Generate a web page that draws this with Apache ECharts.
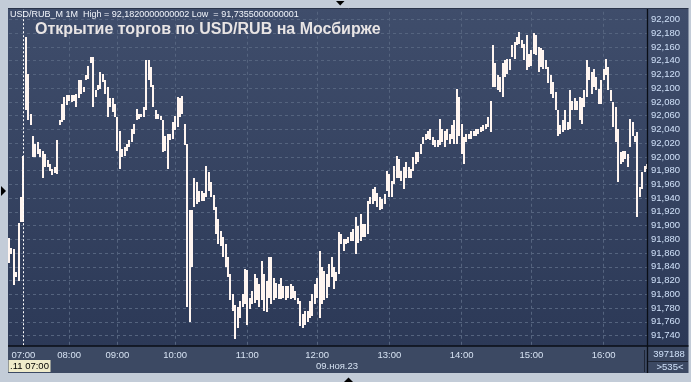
<!DOCTYPE html>
<html><head><meta charset="utf-8">
<script src="https://cdn.jsdelivr.net/npm/echarts@6/dist/echarts.min.js"></script>
<style>html,body{margin:0;padding:0;background:#c3ccd8;}#c{width:691px;height:382px;}</style>
</head><body><div id="c"></div>
<script>
// Minute bars (grouped ~2 min per column): low and high values
const lows = [
91.845,91.858,91.813,91.825,91.820,91.905,91.905,92.068,92.053,92.046,
92.000,92.000,92.004,92.000,91.970,91.985,91.985,91.980,91.973,91.976,
91.975,92.046,92.051,92.053,92.075,92.082,92.080,92.082,92.072,92.085,
92.092,92.094,92.112,92.114,92.136,92.072,92.087,92.097,92.099,92.109,
92.092,92.058,92.072,92.065,92.058,92.009,91.982,92.000,92.002,92.009,
92.014,92.021,92.034,92.053,92.055,92.058,92.058,92.068,92.112,92.102,
92.072,92.055,92.055,92.053,92.007,92.009,91.982,92.024,92.026,92.039,
92.043,92.058,92.063,92.017,91.782,91.759,91.839,91.927,91.931,91.934,
91.936,91.936,91.941,91.951,91.941,91.922,91.888,91.873,91.871,91.854,
91.839,91.825,91.791,91.776,91.7355,91.751,91.766,91.781,91.786,91.756,
91.778,91.786,91.788,91.791,91.781,91.791,91.776,91.774,91.795,91.786,
91.791,91.795,91.793,91.793,91.795,91.791,91.795,91.793,91.795,91.791,
91.786,91.754,91.751,91.756,91.759,91.766,91.768,91.786,91.795,91.766,
91.786,91.791,91.795,91.810,91.825,91.807,91.820,91.829,91.873,91.863,
91.873,91.875,91.878,91.878,91.859,91.875,91.878,91.883,91.883,91.888,
91.931,91.931,91.936,91.927,91.922,91.924,91.931,91.951,91.941,91.941,
91.961,91.970,91.970,91.965,91.953,91.970,91.970,91.970,91.980,91.990,
91.992,92.004,92.019,92.024,92.026,92.024,92.017,92.014,92.014,92.017,
92.021,92.014,92.024,92.019,92.026,92.019,92.019,92.031,92.004,91.990,
92.021,92.026,92.026,92.031,92.031,92.034,92.036,92.038,92.041,92.043,
92.036,92.102,92.102,92.097,92.094,92.087,92.116,92.121,92.126,92.146,
92.143,92.163,92.165,92.158,92.141,92.126,92.131,92.133,92.150,92.148,
92.124,92.131,92.128,92.128,92.107,92.092,92.085,92.068,92.031,92.034,
92.036,92.039,92.039,92.041,92.068,92.068,92.068,92.053,92.048,92.072,
92.087,92.112,92.092,92.102,92.097,92.077,92.077,92.112,92.119,92.097,
92.082,92.043,92.021,91.963,91.990,91.992,91.997,91.985,92.014,92.031,
92.021,91.912,91.941,91.953,91.978,91.982
];
const highs = [
91.882,91.867,91.866,91.833,91.904,91.941,92.002,92.174,92.121,92.063,
92.031,92.019,92.021,92.012,92.009,92.004,91.995,91.990,91.982,91.985,
92.024,92.053,92.077,92.087,92.090,92.090,92.090,92.090,92.092,92.112,
92.112,92.102,92.119,92.133,92.145,92.145,92.097,92.104,92.124,92.121,
92.112,92.102,92.085,92.085,92.077,92.058,92.038,92.012,92.014,92.019,
92.024,92.041,92.048,92.070,92.063,92.063,92.072,92.141,92.141,92.131,
92.104,92.068,92.063,92.060,92.053,92.031,92.034,92.034,92.051,92.060,
92.087,92.085,92.088,92.048,92.019,91.922,91.922,91.970,91.963,91.951,
91.951,91.948,91.987,91.978,91.963,91.944,91.927,91.910,91.892,91.883,
91.873,91.854,91.829,91.800,91.785,91.781,91.790,91.800,91.837,91.835,
91.795,91.805,91.829,91.824,91.815,91.849,91.829,91.819,91.854,91.854,
91.824,91.817,91.815,91.824,91.812,91.812,91.812,91.815,91.812,91.805,
91.795,91.790,91.771,91.776,91.776,91.790,91.800,91.815,91.824,91.863,
91.839,91.834,91.829,91.844,91.854,91.839,91.832,91.890,91.888,91.880,
91.880,91.883,91.890,91.895,91.912,91.900,91.917,91.902,91.902,91.936,
91.941,91.953,91.956,91.948,91.941,91.939,91.946,91.980,91.975,91.965,
91.987,92.002,91.997,91.980,91.985,91.992,91.985,91.982,92.000,92.007,
92.007,92.019,92.029,92.034,92.038,92.041,92.029,92.024,92.024,92.055,
92.041,92.038,92.041,92.034,92.046,92.053,92.099,92.087,92.048,92.029,
92.034,92.034,92.038,92.038,92.041,92.041,92.043,92.046,92.048,92.058,
92.082,92.163,92.136,92.119,92.116,92.136,92.141,92.143,92.143,92.163,
92.167,92.175,92.182,92.170,92.165,92.177,92.150,92.155,92.180,92.177,
92.160,92.158,92.155,92.141,92.131,92.119,92.109,92.094,92.068,92.046,
92.053,92.068,92.051,92.097,92.082,92.085,92.082,92.087,92.085,92.097,
92.141,92.131,92.124,92.128,92.116,92.099,92.112,92.128,92.143,92.131,
92.097,92.080,92.072,92.041,92.007,92.009,92.009,92.004,92.055,92.051,
92.031,92.036,91.956,91.978,91.987,91.990
];
const tickLabels = ['07:00','08:00','09:00','10:00','11:00','12:00','13:00','14:00','15:00','16:00'];
const tickIndex = [6,25,45,69,99,128,158,188,217,247];
const lastPrice = 91.987;
const infoText = 'USD/RUB_M 1M  High = 92,1820000000002 Low  = 91,7355000000001';
const titleText = 'Открытие торгов по USD/RUB на Мосбирже';
const dateText = '09.ноя.23';
const cursorText = '.11 07:00';
const volumeText = '397188';
const barsText = '>535<';

const cats = lows.map((_, i) => String(i));
const rangeData = lows.map((l, i) => [i, l, highs[i]]);
const isTick = i => tickIndex.indexOf(i) >= 0;
const isGrid = i => isTick(i) && i !== tickIndex[0];
const fmt = v => v.toFixed(3).replace('.', ',');

const FRAME = '#c3ccd8';
const BOTTOM = '#3c4963';
const BAR = '#fff5f0';
const GRID = '#55647f';
const panelGrad = {type:'linear', x:0, y:0, x2:0, y2:1, colorStops:[{offset:0,color:'#3f4d6b'},{offset:1,color:'#2c3957'}]};
const FONT = '"Liberation Sans", Arial, sans-serif';

function renderBar(params, api) {
  const i = api.value(0);
  const top = api.coord([i, api.value(2)]);
  const bot = api.coord([i, api.value(1)]);
  const x = Math.round(top[0]) - 1;
  const y = Math.round(top[1]);
  const h = Math.max(1, Math.round(bot[1]) - y);
  return {type:'rect', shape:{x:x, y:y, width:2, height:h}, style:{fill:BAR}};
}

const chart = echarts.init(document.getElementById('c'), null, {renderer:'canvas'});
chart.setOption({
  backgroundColor: FRAME,
  animation: false,
  grid: {left: 9, right: 44, top: 5.76, bottom: 32.76},
  xAxis: {
    type: 'category', data: cats, boundaryGap: false,
    axisLine: {show:false}, axisTick: {show:false},
    axisLabel: {interval: i => isTick(i), formatter: (v, i) => tickLabels[tickIndex.indexOf(i)],
      color:'#d6e2f2', fontSize:9.5, fontFamily: FONT, margin:1},
    splitLine: {show:true, interval: i => isGrid(i), lineStyle:{color:GRID, type:[3,3], width:1}}
  },
  yAxis: {
    type: 'value', position: 'right', min: 91.72, max: 92.22, interval: 0.02,
    axisLine: {show:false}, axisTick: {show:false},
    axisLabel: {showMinLabel:false, showMaxLabel:false, formatter: fmt, color:'#cfe0f8', fontSize:9.5, fontFamily: FONT, margin:4},
    splitLine: {show:true, showMinLine:false, showMaxLine:false, lineStyle:{color:GRID, type:[3,3], width:1}}
  },
  series: [{
    type: 'custom', data: rangeData, renderItem: renderBar,
    encode: {x: 0, y: [1, 2]},
    markLine: {
      silent: true, symbol: ['none','none'], animation:false,
      data: [
        {xAxis: cats[tickIndex[0]], lineStyle:{color:'#ffffff', type:[2,2], width:1, opacity:1}, label:{show:false}},
        {yAxis: lastPrice, lineStyle:{opacity:0}, label:{show:true, position:'end', distance:3, formatter: fmt(lastPrice),
          color:'#000', fontSize:9.5, fontFamily: FONT, backgroundColor:'#c9cbcf', borderColor:'#3a3f48', borderWidth:1, padding:[1,4,1,3]}}
      ]
    }
  }],
  graphic: [
    {type:'rect', z:-10, shape:{x:8, y:8.5, width:639.5, height:337.5}, style:{fill:panelGrad}},
    {type:'rect', z:-10, shape:{x:647.5, y:8.5, width:41, height:337.5}, style:{fill:panelGrad}},
    {type:'rect', z:-10, shape:{x:8, y:346, width:680.5, height:27}, style:{fill:BOTTOM}},
    {type:'rect', z:100, shape:{x:0, y:0, width:691, height:8.5}, style:{fill:FRAME}},
    {type:'rect', z:100, shape:{x:8, y:346.5, width:639, height:3.5}, style:{fill:BOTTOM}},
    {type:'line', z:101, shape:{x1:8, y1:346, x2:688.5, y2:346}, style:{stroke:'#0a0e16', lineWidth:1.3}},
    {type:'line', z:101, shape:{x1:647.5, y1:8.5, x2:647.5, y2:373}, style:{stroke:'#0a0e16', lineWidth:1.3}},
    {type:'line', z:101, shape:{x1:8, y1:8.5, x2:688.5, y2:8.5}, style:{stroke:'#2a344a', lineWidth:1}},
    {type:'line', z:101, shape:{x1:644.5, y1:350, x2:644.5, y2:372}, style:{stroke:'#1f2636', lineWidth:1}},
    {type:'line', z:101, shape:{x1:648, y1:361.5, x2:688, y2:361.5}, style:{stroke:'#1f2636', lineWidth:1}},
    {type:'rect', z:101, shape:{x:8.5, y:360, width:42, height:12}, style:{fill:'#efebca'}},
    {type:'text', z:102, style:{text:cursorText, x:10, y:366.5, fill:'#000', font:'9.5px '+FONT, verticalAlign:'middle'}},
    {type:'text', z:102, style:{text:dateText, x:337, y:366.5, fill:'#d6e2f2', font:'9.5px '+FONT, align:'center', verticalAlign:'middle'}},
    {type:'text', z:102, style:{text:volumeText, x:669, y:354.5, fill:'#cfe0f8', font:'9.5px '+FONT, align:'center', verticalAlign:'middle'}},
    {type:'text', z:102, style:{text:barsText, x:670, y:367.5, fill:'#cfe0f8', font:'9.5px '+FONT, align:'center', verticalAlign:'middle'}},
    {type:'text', z:102, style:{text:infoText, x:10, y:15, fill:'#f2f5fb', font:'9px '+FONT, verticalAlign:'middle'}},
    {type:'text', z:102, style:{text:titleText, x:35, y:30, fill:'#e8e4e4', font:'bold 16px '+FONT, verticalAlign:'middle'}},
    {type:'polygon', z:102, shape:{points:[[336,1],[344.5,1],[340.2,5.5]]}, style:{fill:'#000'}},
    {type:'polygon', z:102, shape:{points:[[344,382],[353,382],[348.5,377.5]]}, style:{fill:'#000'}},
    {type:'polygon', z:102, shape:{points:[[1,186],[6,191],[1,196]]}, style:{fill:'#000'}}
  ]
});
</script></body></html>
